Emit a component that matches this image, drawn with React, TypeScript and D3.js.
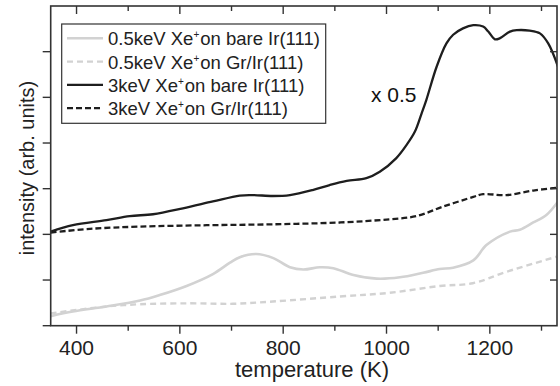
import React, { useEffect, useRef } from 'react';
import * as d3 from 'd3';

// temperature (K) / intensity (arb. units)
const lowBareT = [350, 393, 458, 523, 561, 613, 664, 697, 716, 748, 781, 813, 839, 871, 897, 936, 981, 1026, 1071, 1103, 1129, 1168, 1194, 1239, 1258, 1284, 1310, 1332];
const lowBareI = [0.21, 0.31, 0.42, 0.55, 0.67, 0.87, 1.13, 1.38, 1.50, 1.57, 1.48, 1.28, 1.23, 1.28, 1.26, 1.11, 1.03, 1.06, 1.16, 1.24, 1.27, 1.43, 1.77, 2.06, 2.10, 2.26, 2.43, 2.72];

const lowGrT = [350, 458, 523, 619, 703, 780, 910, 1006, 1103, 1167, 1232, 1329];
const lowGrI = [0.27, 0.42, 0.47, 0.49, 0.48, 0.53, 0.64, 0.72, 0.87, 0.93, 1.18, 1.51];

const highBareT = [350, 393, 458, 503, 548, 606, 664, 716, 741, 780, 813, 857, 890, 923, 961, 987, 1019, 1039, 1055, 1068, 1077, 1097, 1116, 1129, 1148, 1168, 1187, 1197, 1210, 1219, 1239, 1252, 1277, 1297, 1313, 1332];
const highBareI = [2.06, 2.20, 2.31, 2.40, 2.44, 2.57, 2.72, 2.85, 2.86, 2.84, 2.86, 2.97, 3.08, 3.17, 3.23, 3.37, 3.67, 3.96, 4.25, 4.65, 4.94, 5.67, 6.18, 6.37, 6.51, 6.58, 6.55, 6.44, 6.27, 6.29, 6.44, 6.47, 6.46, 6.40, 6.18, 5.67];

const highGrT = [350, 426, 523, 652, 780, 910, 1006, 1058, 1110, 1168, 1187, 1232, 1284, 1329];
const highGrI = [2.04, 2.12, 2.17, 2.20, 2.22, 2.26, 2.33, 2.40, 2.61, 2.82, 2.88, 2.86, 2.96, 3.02];

const xTickVals = [400, 500, 600, 700, 800, 900, 1000, 1100, 1200, 1300];
const xLabelVals = [400, 600, 800, 1000, 1200];
const yTickVals = [0, 1, 2, 3, 4, 5, 6];

const legendLabels = [
	['0.5keV Xe', 'on bare Ir(111)'],
	['0.5keV Xe', 'on Gr/Ir(111)'],
	['3keV Xe', 'on bare Ir(111)'],
	['3keV Xe', 'on Gr/Ir(111)'],
];

const FONT = '"Liberation Sans", Arial, Helvetica, sans-serif';
const LIGHT = '#d2d2d2';
const DARK = '#1e1e1e';
const AXIS = '#333';

const plotChart = (el) => {
	let svg = d3.select(el);
	svg.selectAll('*').remove();

	const left = 50.7, right = 557, top = 6, bottom = 325.7;

	let xScale = d3.scaleLinear().domain([350, 1330]).range([left, right]);
	let yScale = d3.scaleLinear().domain([0, 7]).range([bottom, top]);

	svg.append('defs').append('clipPath').attr('id', 'plotClip')
		.append('rect')
		.attr('x', left).attr('y', top)
		.attr('width', right - left).attr('height', bottom - top);

	const series = [
		{ t: lowBareT, v: lowBareI, color: LIGHT, dash: null, width: 2.6 },
		{ t: lowGrT, v: lowGrI, color: LIGHT, dash: '6,4', width: 2.4 },
		{ t: highBareT, v: highBareI, color: DARK, dash: null, width: 2.3 },
		{ t: highGrT, v: highGrI, color: DARK, dash: '6,3', width: 2.3 },
	];

	let line = d3.line()
		.x(d => xScale(d[0]))
		.y(d => yScale(d[1]))
		.curve(d3.curveCatmullRom.alpha(0.5));

	let g = svg.append('g').attr('clip-path', 'url(#plotClip)');
	series.forEach(s => {
		g.append('path')
			.datum(s.t.map((t, i) => [t, s.v[i]]))
			.attr('d', line)
			.attr('fill', 'none')
			.attr('stroke', s.color)
			.attr('stroke-width', s.width)
			.attr('stroke-dasharray', s.dash)
			.attr('stroke-linejoin', 'round');
	});

	// 3. Axes: bottom/left ticks outward, top/right mirrored inward
	svg.append('g').attr('transform', `translate(0,${bottom})`)
		.call(d3.axisBottom(xScale).tickValues(xTickVals)
			.tickSize(0).tickFormat(() => ''))
		.call(a => a.select('.domain').remove());

	let ticks = svg.append('g').attr('stroke', AXIS).attr('stroke-width', 1.4);
	xTickVals.forEach(t => {
		const major = xLabelVals.includes(t);
		const len = major ? 8 : 5;
		ticks.append('line').attr('x1', xScale(t)).attr('x2', xScale(t))
			.attr('y1', bottom).attr('y2', bottom + len);
		ticks.append('line').attr('x1', xScale(t)).attr('x2', xScale(t))
			.attr('y1', top).attr('y2', top + len);
	});
	yTickVals.forEach(v => {
		ticks.append('line').attr('x1', left - 8).attr('x2', left)
			.attr('y1', yScale(v)).attr('y2', yScale(v));
		if (v > 0)
			ticks.append('line').attr('x1', right - 7).attr('x2', right)
				.attr('y1', yScale(v)).attr('y2', yScale(v));
	});

	svg.append('rect')
		.attr('x', left).attr('y', top)
		.attr('width', right - left).attr('height', bottom - top)
		.attr('fill', 'none').attr('stroke', AXIS).attr('stroke-width', 1.6);

	xLabelVals.forEach(t => {
		svg.append('text')
			.text(t)
			.attr('x', xScale(t)).attr('y', 355)
			.attr('text-anchor', 'middle')
			.style('font-family', FONT).style('font-size', '21px').attr('fill', '#222');
	});

	svg.append('text')
		.text('temperature (K)')
		.attr('x', 312).attr('y', 377)
		.attr('text-anchor', 'middle')
		.style('font-family', FONT).style('font-size', '22px').attr('fill', '#222');

	svg.append('text')
		.text('intensity (arb. units)')
		.attr('transform', 'translate(34,168) rotate(-90)')
		.attr('text-anchor', 'middle')
		.style('font-family', FONT).style('font-size', '20px').attr('fill', '#222');

	svg.append('text')
		.text('x 0.5')
		.attr('x', 371).attr('y', 102)
		.style('font-family', FONT).style('font-size', '21px').attr('fill', '#111');

	// legend
	let lg = svg.append('g');
	lg.append('rect')
		.attr('x', 61.7).attr('y', 24).attr('width', 264).attr('height', 99.3)
		.attr('fill', 'white').attr('stroke', AXIS).attr('stroke-width', 1.2);
	series.forEach((s, i) => {
		const y = 38.3 + i * 23.3;
		lg.append('line')
			.attr('x1', 67).attr('x2', 103).attr('y1', y).attr('y2', y)
			.attr('stroke', s.color).attr('stroke-width', s.width)
			.attr('stroke-dasharray', s.dash);
		let txt = lg.append('text')
			.attr('x', 108).attr('y', y + 7)
			.style('font-family', FONT).style('font-size', '18.5px').attr('fill', '#222');
		txt.append('tspan').text(legendLabels[i][0]);
		txt.append('tspan').text('+').attr('dy', -7).style('font-size', '10px');
		txt.append('tspan').text(legendLabels[i][1]).attr('dy', 7).attr('dx', 1);
	});
};

const App = () => {
	const ref = useRef(null);
	useEffect(() => { plotChart(ref.current); }, []);
	return (
		<svg ref={ref} width={560} height={386}
			style={{ position: 'absolute', left: 0, top: 0, background: 'white' }} />
	);
};

export default App;
